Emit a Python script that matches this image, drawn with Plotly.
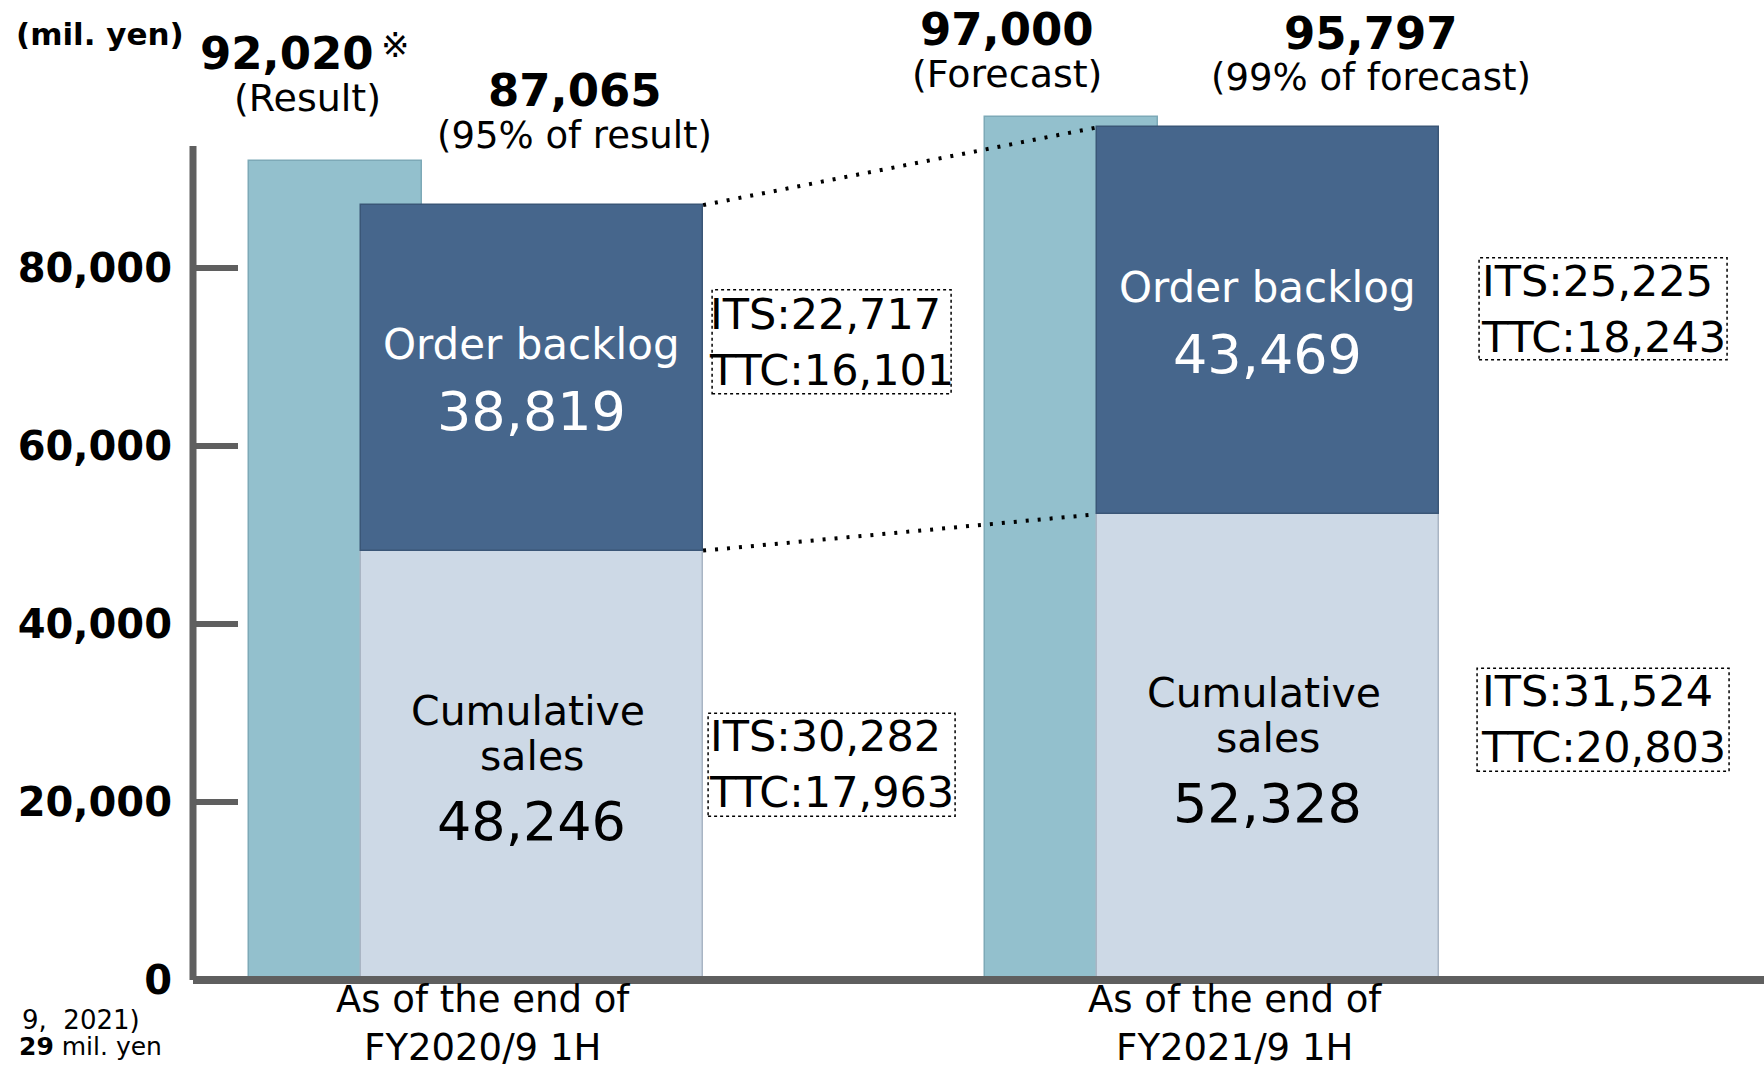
import plotly.graph_objects as go

# ---------------- data ----------------
periods = ["As of the end of<br>FY2020/9 1H", "As of the end of<br>FY2021/9 1H"]
reference_totals = [92020, 97000]          # result / forecast (light teal bars)
reference_notes = ["(Result)", "(Forecast)"]
reference_marks = ["※", ""]
cumulative_sales = [48246, 52328]
order_backlog = [38819, 43469]
ratio_notes = ["(95% of result)", "(99% of forecast)"]
its_backlog = [22717, 25225]
ttc_backlog = [16101, 18243]
its_sales = [30282, 31524]
ttc_sales = [17963, 20803]
y_ticks = [0, 20000, 40000, 60000, 80000]
footnote_lines = ["9,  2021)", "<b>29</b> mil. yen"]

totals = [s + b for s, b in zip(cumulative_sales, order_backlog)]

# ---------------- style ----------------
FONT = "DejaVu Sans"
TEAL = "#93c0cd"
DARK = "#46668c"
LIGHT = "#cdd9e6"
AXIS = "#5f5f5f"
W, H = 1764, 1075
ML, MR, MT, MB = 193, 0, 45, 95
X_RANGE = [-0.4606, 1.674]
Y_MAX = 105056
AXIS_TOP = 93700

group_x = list(range(len(cumulative_sales)))
teal_offset = -0.267
teal_width = 0.234
stack_width = 0.465
teal_x = [g + teal_offset for g in group_x]

fig = go.Figure()
fig.add_bar(x=teal_x, y=reference_totals, width=teal_width,
            marker=dict(color=TEAL, line=dict(color="#7da9b7", width=1.5)),
            hoverinfo="skip", showlegend=False)
fig.add_bar(x=group_x, y=cumulative_sales, width=stack_width,
            marker=dict(color=LIGHT, line=dict(color="#a9b5c4", width=1.5)),
            hoverinfo="skip", showlegend=False)
fig.add_bar(x=group_x, y=order_backlog, base=cumulative_sales, width=stack_width,
            marker=dict(color=DARK, line=dict(color="#3a5677", width=1.5)),
            hoverinfo="skip", showlegend=False)

ann = []
shapes = []

def txt(text, x, y, size, color="black", bold=False, xshift=0, yshift=0,
        xref="x", yref="y", xanchor="center", yanchor="middle", align="center", family=FONT):
    if bold:
        text = "<b>" + text + "</b>"
    ann.append(dict(text=text, x=x, y=y, xref=xref, yref=yref, showarrow=False,
                    xshift=xshift, yshift=yshift, xanchor=xanchor, yanchor=yanchor,
                    align=align, font=dict(family=family, size=size, color=color)))

# unit label
txt("(mil. yen)", 0, 1, 31, bold=True, xref="paper", yref="paper",
    xshift=100 - ML, yshift=-(34 - MT))

# labels above reference (teal) bars
ref_num_shift = [(-48, 108), (-64, 87)]
ref_mark_shift = [(60, 116), (0, 0)]
ref_note_shift = [(-27.5, 63), (-64, 43)]
for i in range(len(group_x)):
    txt(f"{reference_totals[i]:,}", teal_x[i], reference_totals[i], 45, bold=True,
        xshift=ref_num_shift[i][0], yshift=ref_num_shift[i][1])
    if reference_marks[i]:
        txt(reference_marks[i], teal_x[i], reference_totals[i], 34,
            xshift=ref_mark_shift[i][0], yshift=ref_mark_shift[i][1])
    txt(reference_notes[i], teal_x[i], reference_totals[i], 38,
        xshift=ref_note_shift[i][0], yshift=ref_note_shift[i][1])

# labels above stacked bars
tot_num_shift = [(43, 115), (103, 94)]
tot_note_shift = [(43, 70), (103, 50)]
for i in range(len(group_x)):
    txt(f"{totals[i]:,}", group_x[i], totals[i], 45, bold=True,
        xshift=tot_num_shift[i][0], yshift=tot_num_shift[i][1])
    txt(ratio_notes[i], group_x[i], totals[i], 37,
        xshift=tot_note_shift[i][0], yshift=tot_note_shift[i][1])

# labels inside segments
for i in range(len(group_x)):
    mid_b = cumulative_sales[i] + order_backlog[i] / 2
    txt("Order backlog", group_x[i], mid_b, 42, color="white", yshift=33)
    txt(f"{order_backlog[i]:,}", group_x[i], mid_b, 54, color="white", yshift=-34)
    mid_s = cumulative_sales[i] / 2
    txt("Cumulative", group_x[i], mid_s, 41, xshift=-4, yshift=54)
    txt("sales", group_x[i], mid_s, 41, yshift=9)
    txt(f"{cumulative_sales[i]:,}", group_x[i], mid_s, 54, yshift=-56)

# ITS / TTC breakdown boxes (anchored at stacked-bar right edge, segment middle)
box_specs = [
    # (group, segment, x0, x1, y0, y1, text xshift, text yshift)
    (0, "b", 9, 248, -16, 88, 128.5, 36),
    (0, "s", 5, 252, -51, 52, 128.5, 1),
    (1, "b", 40, 288, -39, 63, 164, 12),
    (1, "s", 38, 290, -24, 79, 164, 28),
]
for g, seg, x0, x1, y0, y1, tx, ty in box_specs:
    ax_x = group_x[g] + stack_width / 2
    if seg == "b":
        ay = cumulative_sales[g] + order_backlog[g] / 2
        its, ttc = its_backlog[g], ttc_backlog[g]
    else:
        ay = cumulative_sales[g] / 2
        its, ttc = its_sales[g], ttc_sales[g]
    shapes.append(dict(type="rect", xref="x", yref="y", xsizemode="pixel", ysizemode="pixel",
                       xanchor=ax_x, yanchor=ay, x0=x0, x1=x1, y0=y0, y1=y1,
                       line=dict(color="black", width=1.5, dash="dot"), layer="above"))
    txt(f"ITS:{its:,}<br>TTC:{ttc:,}", ax_x, ay, 43, xshift=tx, yshift=ty, align="left")

# dotted connector lines between stacked bars
for y_vals in (totals, cumulative_sales):
    shapes.append(dict(type="line", xref="x", yref="y",
                       x0=group_x[0] + stack_width / 2, y0=y_vals[0],
                       x1=group_x[1] - stack_width / 2, y1=y_vals[1],
                       line=dict(color="black", width=4, dash="3px,9px"), layer="above"))

# axis lines
shapes.append(dict(type="line", xref="paper", yref="paper", x0=0, x1=1, y0=0, y1=0,
                   line=dict(color=AXIS, width=8), layer="above"))
shapes.append(dict(type="line", xref="paper", yref="y", x0=0, x1=0, y0=0, y1=AXIS_TOP,
                   line=dict(color=AXIS, width=7), layer="above"))

# category labels
cat_xshift = [-49, -33]
for i in range(len(group_x)):
    txt(periods[i], group_x[i], 0, 37, yref="paper", xshift=cat_xshift[i],
        yshift=-(1023 - (H - MB)))

# clipped footnote at bottom-left
txt(footnote_lines[0], 0, 0, 26, xref="paper", yref="paper", xanchor="right",
    xshift=142 - ML, yshift=-(1020 - (H - MB)))
txt(footnote_lines[1], 0, 0, 25, xref="paper", yref="paper", xanchor="right",
    xshift=164 - ML, yshift=-(1046 - (H - MB)))

fig.update_layout(
    width=W, height=H,
    margin=dict(l=ML, r=MR, t=MT, b=MB, pad=0),
    paper_bgcolor="white", plot_bgcolor="white",
    barmode="overlay", bargap=0,
    showlegend=False,
    annotations=ann, shapes=shapes,
    xaxis=dict(range=X_RANGE, visible=False, fixedrange=True),
    yaxis=dict(range=[0, Y_MAX], tickvals=y_ticks, ticktext=[f"{v:,}" for v in y_ticks],
               ticks="inside", ticklen=45, tickwidth=6, tickcolor=AXIS,
               showgrid=False, zeroline=False, showline=False,
               ticklabelstandoff=20,
               tickfont=dict(family=FONT, size=40, color="black", weight="bold"),
               fixedrange=True),
    font=dict(family=FONT),
)

fig.write_html("out.html", config={"displayModeBar": False},
               post_script="document.body.style.margin='0';document.body.style.overflow='hidden';")
